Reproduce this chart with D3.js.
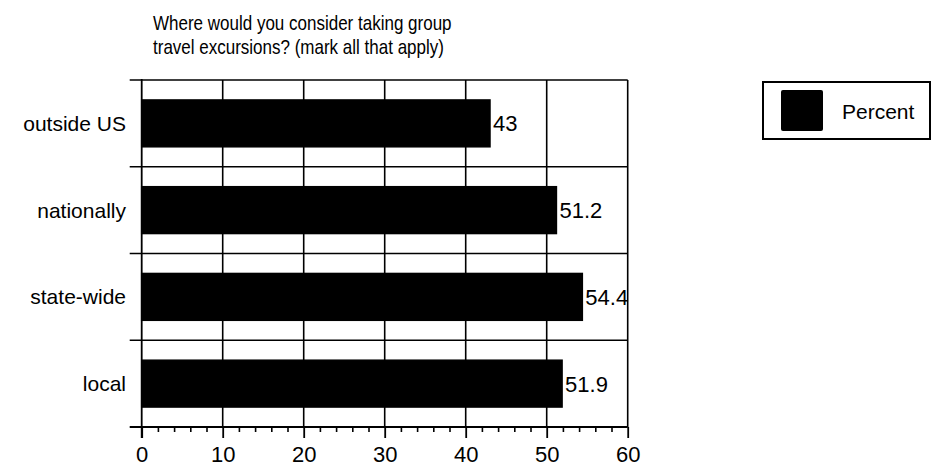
<!DOCTYPE html>
<html>
<head>
<meta charset="utf-8">
<script src="https://cdn.jsdelivr.net/npm/d3@7"></script>
<style>
  html, body { margin: 0; padding: 0; background: #fff; }
  svg { display: block; }
  text { font-family: "Liberation Sans", Arial, sans-serif; fill: #000; }
</style>
</head>
<body>
<svg id="chart" width="931" height="466"></svg>
<script>
// Survey answers, top row first
const categories = ["outside US", "nationally", "state-wide", "local"];
const percentValues = [43, 51.2, 54.4, 51.9];
const xTicks = [0, 10, 20, 30, 40, 50, 60];
const titleLines = ["Where would you consider taking group", "travel excursions? (mark all that apply)"];
const seriesName = "Percent";

const svg = d3.select("#chart");

const plot = { left: 141.7, right: 627.7, top: 80, bottom: 427 };

const x = d3.scaleLinear().domain([0, 60]).range([plot.left, plot.right]);
const y = d3.scaleBand()
  .domain(categories)
  .range([plot.top, plot.bottom])
  .paddingInner(0.46)
  .paddingOuter(0.23);

// Title, horizontally condensed
svg.append("g")
  .attr("transform", "translate(153,0) scale(0.81,1)")
  .selectAll("text")
  .data(titleLines)
  .join("text")
  .attr("x", 0)
  .attr("y", (d, i) => 30 + i * 24)
  .attr("font-size", 21)
  .text(d => d);

const grid = svg.append("g").attr("stroke", "#000").attr("stroke-width", 1.6);

// Vertical gridlines
grid.selectAll("line.v")
  .data(xTicks.filter(t => t > 0 && t < 60))
  .join("line")
  .attr("class", "v")
  .attr("x1", d => x(d)).attr("x2", d => x(d))
  .attr("y1", plot.top).attr("y2", plot.bottom);

// Horizontal separators between categories (extend left as ticks)
const step = y.step();
const boundaries = d3.range(categories.length).map(i => plot.top + i * step);
grid.selectAll("line.h")
  .data(boundaries)
  .join("line")
  .attr("class", "h")
  .attr("x1", plot.left - 12).attr("x2", plot.right)
  .attr("y1", d => d).attr("y2", d => d);

// Right frame edge
grid.append("line")
  .attr("x1", plot.right).attr("x2", plot.right)
  .attr("y1", plot.top).attr("y2", plot.bottom);

// Bars
svg.append("g")
  .selectAll("rect")
  .data(categories)
  .join("rect")
  .attr("x", x(0))
  .attr("y", d => y(d))
  .attr("width", (d, i) => x(percentValues[i]) - x(0))
  .attr("height", y.bandwidth())
  .attr("fill", "#000")
  .attr("stroke", "#000")
  .attr("stroke-width", 1.5);

// Value labels
svg.append("g")
  .selectAll("text")
  .data(categories)
  .join("text")
  .attr("x", (d, i) => x(percentValues[i]) + 3)
  .attr("y", d => y(d) + y.bandwidth() / 2)
  .attr("dy", "0.36em")
  .attr("font-size", 22)
  .text((d, i) => String(percentValues[i]));

// Category labels
svg.append("g")
  .selectAll("text")
  .data(categories)
  .join("text")
  .attr("x", 126)
  .attr("y", d => y(d) + y.bandwidth() / 2)
  .attr("dy", "0.36em")
  .attr("text-anchor", "end")
  .attr("font-size", 21)
  .text(d => d);

// Bottom axis: minor ticks every 2, major ticks every 10
const minorAxis = d3.axisBottom(x)
  .tickValues(d3.range(0, 61, 2).filter(v => v % 10 !== 0))
  .tickSize(5)
  .tickFormat("");
const gMinor = svg.append("g")
  .attr("transform", `translate(0,${plot.bottom})`)
  .call(minorAxis);
gMinor.select(".domain").remove();
gMinor.selectAll("line").attr("stroke", "#000").attr("stroke-width", 1.6);

const majorAxis = d3.axisBottom(x)
  .tickValues(xTicks)
  .tickSize(11)
  .tickSizeOuter(0)
  .tickPadding(8)
  .tickFormat(d3.format("d"));
const gMajor = svg.append("g")
  .attr("transform", `translate(0,${plot.bottom})`)
  .call(majorAxis);
gMajor.select(".domain").remove();
gMajor.selectAll("line").attr("stroke", "#000").attr("stroke-width", 1.8);
gMajor.selectAll("text")
  .attr("font-size", 22)
  .attr("font-family", "Liberation Sans, Arial, sans-serif")
  .attr("fill", "#000");

// Axis lines
svg.append("line")
  .attr("x1", plot.left - 12).attr("x2", plot.right)
  .attr("y1", plot.bottom).attr("y2", plot.bottom)
  .attr("stroke", "#000").attr("stroke-width", 1.8);
svg.append("line")
  .attr("x1", plot.left).attr("x2", plot.left)
  .attr("y1", plot.top - 1).attr("y2", plot.bottom + 11)
  .attr("stroke", "#000").attr("stroke-width", 1.8);

// Legend
const legend = svg.append("g");
legend.append("rect")
  .attr("x", 763).attr("y", 82)
  .attr("width", 167).attr("height", 57)
  .attr("fill", "#fff").attr("stroke", "#000").attr("stroke-width", 2);
legend.append("rect")
  .attr("x", 781).attr("y", 90)
  .attr("width", 42).attr("height", 41)
  .attr("rx", 2)
  .attr("fill", "#000");
legend.append("text")
  .attr("x", 842).attr("y", 111)
  .attr("dy", "0.36em")
  .attr("font-size", 21)
  .text(seriesName);
</script>
</body>
</html>
